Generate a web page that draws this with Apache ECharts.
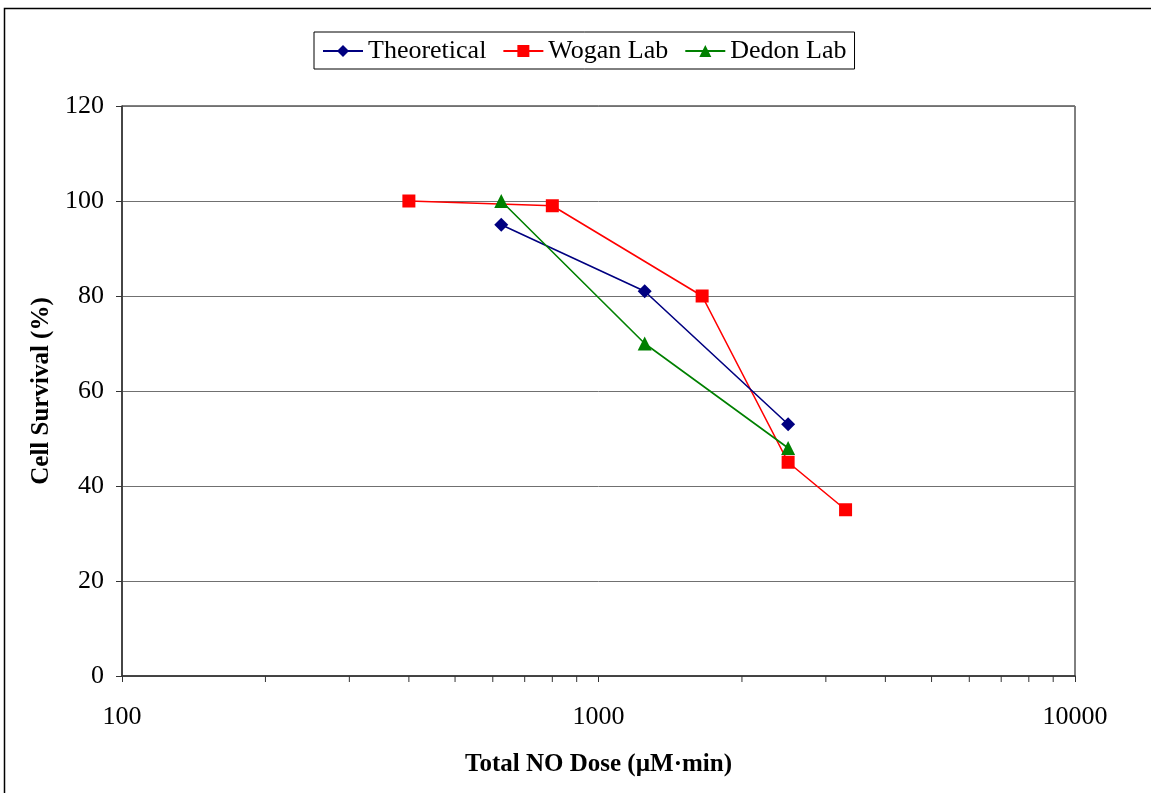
<!DOCTYPE html>
<html>
<head>
<meta charset="utf-8">
<script src="https://cdn.jsdelivr.net/npm/echarts@6/dist/echarts.min.js"></script>
<style>
html,body{margin:0;padding:0;background:#fff;}
#chart{width:1151px;height:793px;}
</style>
</head>
<body>
<div id="chart"></div>
<script>
const theoreticalDose = [625, 1250, 2500];
const theoreticalSurvival = [95, 81, 53];
const woganDose = [400, 800, 1650, 2500, 3300];
const woganSurvival = [100, 99, 80, 45, 35];
const dedonDose = [625, 1250, 2500];
const dedonSurvival = [100, 70, 48];
const minorTickValues = [200, 300, 400, 500, 600, 700, 800, 900, 2000, 3000, 4000, 5000, 6000, 7000, 8000, 9000];
const yTicks = [0, 20, 40, 60, 80, 100, 120];

const FONT = '"Liberation Serif", "Times New Roman", serif';
const pairs = (xs, ys) => xs.map((x, i) => [x, ys[i]]);

const chart = echarts.init(document.getElementById('chart'));
chart.setOption({
  animation: false,
  backgroundColor: '#fff',
  textStyle: { fontFamily: FONT },
  graphic: [{
    type: 'rect', left: 2, top: 6, z: -1,
    shape: { width: 1200, height: 900 },
    style: { fill: 'none', stroke: '#000', lineWidth: 1.5 }
  }],
  legend: {
    left: 314, top: 32,
    borderColor: '#000', borderWidth: 1,
    padding: [6, 8, 5, 8],
    itemWidth: 40, itemHeight: 15, itemGap: 16,
    textStyle: { fontFamily: FONT, fontSize: 26, color: '#000', padding: [2, 0, 0, 0] },
    data: ['Theoretical', 'Wogan Lab', 'Dedon Lab']
  },
  grid: {
    left: 122, right: 76, top: 106, bottom: 117,
    show: true, borderColor: '#000', borderWidth: 1, backgroundColor: 'transparent'
  },
  xAxis: {
    type: 'log', logBase: 10, min: 100, max: 10000,
    name: 'Total NO Dose (µM·min)',
    nameLocation: 'middle', nameGap: 76,
    nameTextStyle: { fontFamily: FONT, fontSize: 25, fontWeight: 'bold', color: '#000' },
    axisLine: { show: true, lineStyle: { color: '#333', width: 1.5 } },
    axisTick: { show: true, inside: false, length: 6, lineStyle: { color: '#333' } },
    axisLabel: { fontFamily: FONT, fontSize: 26, color: '#000', margin: 28,
      formatter: v => String(Math.round(v)) },
    splitLine: { show: false }
  },
  yAxis: {
    type: 'value', min: yTicks[0], max: yTicks[yTicks.length - 1], interval: 20,
    name: 'Cell Survival (%)',
    nameLocation: 'middle', nameGap: 59,
    nameTextStyle: { fontFamily: FONT, fontSize: 25, fontWeight: 'bold', color: '#000' },
    axisLine: { show: true, lineStyle: { color: '#333', width: 1.5 } },
    axisTick: { show: true, inside: false, length: 6, lineStyle: { color: '#333' } },
    axisLabel: { fontFamily: FONT, fontSize: 26, color: '#000', margin: 18 },
    splitLine: { show: true, lineStyle: { color: '#707070', width: 1 } }
  },
  series: [
    {
      name: 'Theoretical', type: 'line', data: pairs(theoreticalDose, theoreticalSurvival),
      symbol: 'diamond', symbolSize: 14,
      itemStyle: { color: '#000080' }, lineStyle: { color: '#000080', width: 1.6 }, z: 3
    },
    {
      name: 'Wogan Lab', type: 'line', data: pairs(woganDose, woganSurvival),
      symbol: 'rect', symbolSize: 13,
      itemStyle: { color: '#ff0000' }, lineStyle: { color: '#ff0000', width: 1.6 }, z: 2
    },
    {
      name: 'Dedon Lab', type: 'line', data: pairs(dedonDose, dedonSurvival),
      symbol: 'triangle', symbolSize: 14,
      itemStyle: { color: '#008000' }, lineStyle: { color: '#008000', width: 1.6 }, z: 4
    },
    {
      name: 'minorTicks', type: 'custom', silent: true, clip: false,
      data: minorTickValues.map(v => [v, 0]),
      encode: { x: 0, y: 1 },
      renderItem: function (params, api) {
        const p = api.coord([api.value(0), 0]);
        return {
          type: 'line',
          shape: { x1: p[0], y1: p[1], x2: p[0], y2: p[1] + 6 },
          style: { stroke: '#333', lineWidth: 1 }
        };
      },
      z: 1
    }
  ]
});
</script>
</body>
</html>
